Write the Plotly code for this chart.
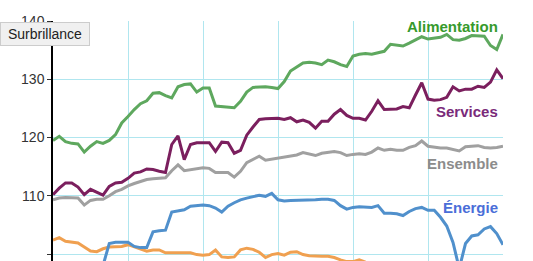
import plotly.graph_objects as go

months = list(range(73))

alimentation = [119.5, 120.2, 119.3, 119.0, 118.9, 117.5, 118.5, 119.3, 119.0, 119.5,
                120.5, 122.5, 123.6, 124.8, 125.8, 126.3, 127.6, 127.7, 127.2, 126.8,
                128.7, 129.1, 129.2, 127.8, 128.5, 128.5, 125.4, 125.3, 125.2, 125.1,
                126.2, 127.8, 128.6, 128.7, 128.7, 128.6, 128.4, 129.6, 131.4, 132.1,
                132.8, 132.9, 132.8, 132.5, 133.3, 133.0, 132.5, 132.2, 134.0, 134.3,
                134.4, 134.3, 134.5, 134.8, 136.0, 135.9, 135.7, 136.2, 136.8, 137.3,
                136.9, 137.0, 137.2, 137.7, 136.8, 136.7, 137.0, 137.5, 137.5, 137.4,
                135.8, 135.1, 137.7]

services = [110.2, 111.3, 112.2, 112.2, 111.5, 110.2, 111.1, 110.6, 110.1, 111.6,
            112.2, 112.3, 113.0, 113.9, 114.1, 114.6, 114.5, 114.2, 114.0, 118.8,
            120.3, 116.2, 118.8, 119.1, 119.1, 119.1, 117.6, 119.2, 119.1, 117.3,
            117.8, 120.4, 121.8, 123.1, 123.2, 123.2, 123.3, 123.1, 123.4, 122.7,
            123.0, 122.6, 121.6, 122.8, 122.8, 124.0, 124.8, 123.8, 123.3, 123.3,
            123.0, 124.5, 126.3, 124.8, 124.8, 124.9, 125.3, 125.1, 127.3, 129.4,
            126.6, 126.4, 126.5, 126.9, 128.7, 128.0, 128.3, 128.3, 128.8, 128.6,
            129.5, 131.6, 130.1]

ensemble = [109.3, 109.6, 109.7, 109.7, 109.6, 108.4, 109.2, 109.4, 109.4, 110.0,
            110.7, 111.1, 111.7, 112.1, 112.4, 112.8, 112.9, 113.0, 113.1, 114.3,
            115.3, 114.3, 114.5, 114.6, 114.8, 114.7, 114.0, 114.0, 114.0, 113.2,
            114.2, 115.7, 116.3, 116.8, 116.1, 116.3, 116.5, 116.6, 116.8, 117.0,
            117.4, 117.1, 116.9, 117.3, 117.5, 117.6, 117.4, 116.9, 117.1, 117.2,
            117.1, 117.5, 118.2, 117.8, 118.0, 117.8, 117.8, 118.3, 118.6, 119.4,
            118.5, 118.3, 118.2, 118.2, 118.0, 117.7, 118.4, 118.5, 118.6, 118.3,
            118.2, 118.3, 118.5]

energie = [93.5, 92.0, 90.5, 89.0, 88.5, 90.0, 93.0, 96.0, 98.0, 101.8,
           102.0, 102.0, 102.0, 101.3, 101.1, 101.1, 103.8, 104.0, 104.1, 107.2,
           107.4, 107.6, 108.2, 108.3, 108.4, 108.3, 107.9, 107.2, 108.2, 108.8,
           109.3, 109.6, 109.9, 110.1, 109.9, 110.4, 109.3, 109.1, 109.2, 109.2,
           109.3, 109.3, 109.3, 109.4, 109.4, 109.2, 108.3, 107.7, 108.0, 108.1,
           108.0, 108.0, 108.3, 107.0, 107.0, 106.9, 106.6, 107.3, 107.8, 108.0,
           107.5, 107.5, 106.3, 104.8, 102.0, 97.5, 101.8, 103.1, 103.3, 104.3,
           104.7, 103.5, 101.6]

manufactures = [102.4, 102.8, 102.2, 102.0, 101.9, 101.2, 100.5, 100.4, 100.9, 101.2,
                101.2, 101.3, 101.6, 101.2, 100.8, 100.5, 100.7, 100.7, 100.2, 100.2,
                100.2, 100.2, 100.2, 99.9, 99.8, 99.9, 100.7, 99.5, 99.4, 99.5,
                100.7, 101.0, 100.8, 100.3, 99.4, 99.9, 100.1, 99.8, 100.3, 100.4,
                99.9, 99.7, 99.6, 99.6, 99.6, 99.4, 99.0, 98.7, 98.7, 99.0,
                98.6, 98.4, 98.2, 98.0, 98.1, 97.8, 97.6, 97.7, 97.5, 97.6,
                97.3, 97.2, 97.4, 97.1, 97.0, 97.2, 97.0, 96.9, 97.1, 96.8,
                96.9, 96.7, 96.8]

y_ticks = [100, 110, 120, 130, 140]

series = [
    ("Produits manufacturés", manufactures, "#f0a050"),
    ("Énergie", energie, "#5090cc"),
    ("Ensemble", ensemble, "#a0a0a0"),
    ("Services", services, "#7b1f5e"),
    ("Alimentation", alimentation, "#5ea85e"),
]

fig = go.Figure()
for name, vals, col in series:
    fig.add_trace(go.Scatter(x=months, y=vals, mode="lines", name=name,
                             line=dict(color=col, width=3), showlegend=False))

font_family = "Arial, Liberation Sans, sans-serif"
labels = [
    ("Alimentation", 139.0, "#369a2c"),
    ("Services", 124.5, "#7a2a7a"),
    ("Ensemble", 115.5, "#8c8c8c"),
    ("Énergie", 108.0, "#4a6ed8"),
]
for txt, yv, col in labels:
    fig.add_annotation(x=71.5, y=yv, xref="x", yref="y", text="<b>%s</b>" % txt,
                       showarrow=False, xanchor="right", yanchor="middle",
                       font=dict(family=font_family, size=15, color=col))

fig.add_annotation(x=-53 / 450, y=1 - 12.5 / 240, xref="paper", yref="paper",
                   text="Surbrillance", showarrow=False, xanchor="left", yanchor="middle",
                   width=82, height=16, align="center",
                   font=dict(family=font_family, size=14, color="#222222"),
                   bgcolor="#f0f0f0", bordercolor="#cccccc", borderwidth=1, borderpad=3)

fig.update_layout(
    width=533, height=261,
    margin=dict(l=53, r=30, t=21, b=0),
    paper_bgcolor="white", plot_bgcolor="white",
    xaxis=dict(range=[0, 72], dtick=12, tick0=0, showgrid=True, gridcolor="#b0e6ef",
               gridwidth=1, showticklabels=False, ticks="", showline=False, zeroline=False),
    yaxis=dict(range=[98.8, 140], tickvals=y_ticks, showgrid=True, gridcolor="#b0e6ef",
               gridwidth=1, showline=True, linecolor="black", linewidth=1.5,
               ticks="outside", ticklen=4, tickcolor="#333333", zeroline=False,
               tickfont=dict(family=font_family, size=14, color="#333333")),
)

fig.write_html("out.html")
